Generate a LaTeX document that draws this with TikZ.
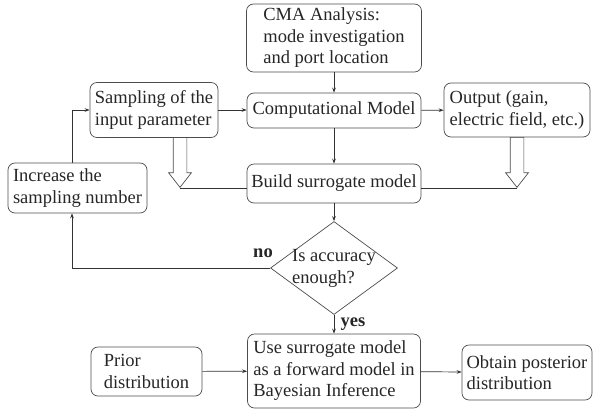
\documentclass[tikz,border=0pt]{standalone}
\usepackage{fontspec}
\setmainfont{Liberation Serif}
\usetikzlibrary{shapes.geometric,shapes.arrows,arrows.meta}
\begin{document}
\begin{tikzpicture}[x=1pt,y=-1pt,
    >={Stealth[length=5pt,width=3.6pt]},
    box/.style={draw=black!70,line width=0.7pt,rounded corners=7pt,align=left,
      inner sep=0pt,font=\fontsize{18.5}{21.5}\selectfont,text=black!85},
    decide/.style={diamond,draw=black!70,line width=0.7pt,inner sep=0pt,
      minimum width=127,minimum height=93,font=\fontsize{18.5}{21.5}\selectfont,text=black!85},
    hollow/.style={single arrow,draw=black!70,line width=0.7pt,inner sep=6.5,
      minimum width=22,minimum height=50,single arrow head extend=4.5,
      single arrow tip angle=76,shape border rotate=270},
    link/.style={draw=black!80,line width=0.7pt},
    tag/.style={font=\fontsize{18.5}{21.5}\selectfont\bfseries,text=black!85,inner sep=0pt}]
    \useasboundingbox (0,0) rectangle (593,410);
    \node[box,minimum width=175,minimum height=68] (cma) at (334,38) {CMA Analysis:\\mode investigation\\and port location};
    \node[box,minimum width=128,minimum height=55] (samp) at (154,110) {Sampling of the\\input parameter};
    \node[box,minimum width=174,minimum height=35] (comp) at (334,110.5) {Computational Model};
    \node[box,minimum width=146,minimum height=54] (out) at (517,110) {Output (gain,\\electric field, etc.)};
    \node[box,minimum width=139,minimum height=50] (inc) at (77.5,188) {Increase the\\sampling number};
    \node[box,minimum width=174,minimum height=39] (build) at (334,183.5) {Build surrogate model};
    \node[decide] (dia) at (334,268) {\raisebox{-4.5pt}[0pt][0pt]{\makebox[0pt]{\begin{tabular}{@{}l@{}}Is accuracy\\enough?\end{tabular}}}};
    \node[box,minimum width=173,minimum height=74] (use) at (334,371) {Use surrogate model\\as a forward model in\\Bayesian Inference};
    \node[box,minimum width=111,minimum height=49] (prior) at (146.5,371.5) {Prior\\distribution};
    \node[box,minimum width=130,minimum height=55] (post) at (527,372.5) {Obtain posterior\\distribution};
    \node[hollow,anchor=tail] (fl) at (180,137) {};
    \node[hollow,anchor=tail] (fr) at (517,137) {};
    \node[tag] (no) at (263,253) {no};
    \node[tag] (yes) at (353,324) {yes};
    \coordinate (lp) at (72,268);
    \draw[link,->] (cma) -- (comp);
    \draw[link,->] (samp.east) -- (samp.east -| comp.west);
    \draw[link,->] (comp) -- (out);
    \draw[link,->] (comp) -- (build);
    \draw[link,->] (build) -- (dia);
    \draw[link,->] (dia.west) -- (lp) -- (lp |- inc.south);
    \draw[link,->] (lp |- inc.north) |- (samp.west);
    \draw[link,->] (dia.south) -- (use.north);
    \draw[link,->] (prior) -- (use);
    \draw[link,->] (use) -- (post);
    \draw[link] (fl.tip) -- (fl.tip -| build.west);
    \draw[link] (fr.tip) -- (fr.tip -| build.east);
\end{tikzpicture}
\end{document}
